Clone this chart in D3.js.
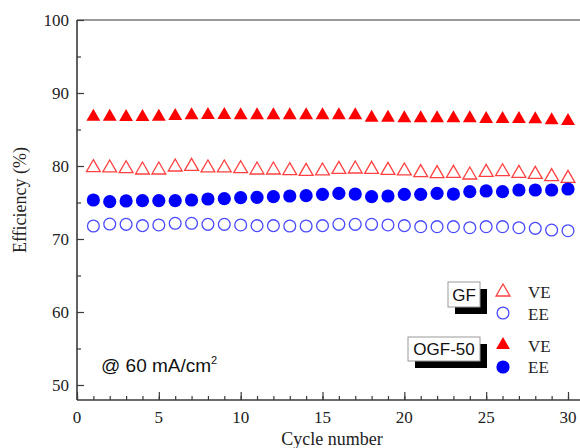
<!DOCTYPE html>
<html><head><meta charset="utf-8">
<script src="https://cdn.jsdelivr.net/npm/d3@7"></script>
<style>body{margin:0;background:#fff}svg{display:block}</style>
</head><body><svg id="c" width="580" height="448"></svg>
<script>
const cycles = d3.range(1, 31);
const veOGF = [86.76,86.76,86.71,86.71,86.76,86.85,86.94,86.99,86.99,86.94,86.94,86.94,86.94,86.94,86.94,86.94,86.94,86.62,86.62,86.53,86.53,86.53,86.53,86.53,86.44,86.44,86.44,86.39,86.26,86.16];
const veGF = [79.77,79.73,79.63,79.45,79.45,79.86,79.95,79.73,79.73,79.63,79.45,79.45,79.36,79.27,79.32,79.54,79.59,79.54,79.41,79.32,79.09,78.95,79.0,78.77,79.13,79.22,79.0,78.86,78.54,78.31];
const eeOGF = [75.34,75.11,75.21,75.25,75.25,75.25,75.34,75.48,75.53,75.66,75.71,75.8,75.89,75.94,76.12,76.26,76.16,75.8,75.89,76.12,76.12,76.26,76.16,76.48,76.58,76.48,76.71,76.71,76.71,76.85];
const eeGF = [71.78,72.05,72.01,71.83,71.92,72.15,72.15,72.01,72.01,71.92,71.83,71.83,71.78,71.78,71.83,72.01,72.01,72.01,71.92,71.83,71.69,71.69,71.69,71.55,71.69,71.69,71.55,71.46,71.23,71.14];
const xTicks = [0,5,10,15,20,25,30];
const yTicks = [50,60,70,80,90,100];

const svg = d3.select('#c');
const x = d3.scaleLinear().domain([0,30]).range([77,568]);
const y = d3.scaleLinear().domain([50,100]).range([385,20]);
const axisColor = '#3a3a3a';
const serif = '"Liberation Serif","Times New Roman",serif';
const sans = '"Liberation Sans",Arial,sans-serif';

// frame lines
svg.append('line').attr('x1',77).attr('x2',580).attr('y1',20).attr('y2',20).attr('stroke','#777').attr('stroke-width',1.6);

// x axis (ticks inward)
const gx = svg.append('g').attr('transform','translate(0,400)');
gx.call(d3.axisTop(x).tickValues(d3.range(0,31)).tickSize(4).tickFormat(''));
gx.selectAll('.tick line').attr('stroke',axisColor).attr('stroke-width',1.2);
gx.select('.domain').remove();
gx.append('line').attr('x1',77).attr('x2',580).attr('stroke',axisColor).attr('stroke-width',1.6);
const gx2 = svg.append('g').attr('transform','translate(0,400)');
gx2.call(d3.axisTop(x).tickValues(xTicks).tickSize(8).tickFormat(''));
gx2.select('.domain').remove();
gx2.selectAll('.tick line').attr('stroke',axisColor).attr('stroke-width',1.2);
svg.append('g').selectAll('text').data(xTicks).join('text')
  .attr('x',d=>x(d)).attr('y',423).attr('text-anchor','middle')
  .attr('font-family',serif).attr('font-size',17).attr('fill','#222').text(d=>d);

// y axis (ticks inward)
const gy = svg.append('g').attr('transform','translate(77,0)');
gy.call(d3.axisRight(y).tickValues(d3.range(55,100,10)).tickSize(4).tickFormat(''));
gy.select('.domain').remove();
gy.selectAll('.tick line').attr('stroke',axisColor).attr('stroke-width',1.2);
const gy2 = svg.append('g').attr('transform','translate(77,0)');
gy2.call(d3.axisRight(y).tickValues(yTicks).tickSize(7).tickFormat(''));
gy2.select('.domain').remove();
gy2.selectAll('.tick line').attr('stroke',axisColor).attr('stroke-width',1.2);
svg.append('line').attr('x1',77).attr('x2',77).attr('y1',20).attr('y2',400).attr('stroke',axisColor).attr('stroke-width',1.6);
svg.append('g').selectAll('text').data(yTicks).join('text')
  .attr('x',69).attr('y',d=>y(d)+6).attr('text-anchor','end')
  .attr('font-family',serif).attr('font-size',17).attr('fill','#222').text(d=>d);

// axis titles
svg.append('text').attr('x',332).attr('y',445).attr('text-anchor','middle')
  .attr('font-family',serif).attr('font-size',18).attr('fill','#222').text('Cycle number');
svg.append('text').attr('transform','translate(26,200) rotate(-90)').attr('text-anchor','middle')
  .attr('font-family',serif).attr('font-size',18).attr('fill','#222').text('Efficiency (%)');

// markers
const tri = d3.symbol().type(d3.symbolTriangle).size(83);
const red = '#ff0000', blue = '#0000ff';
function plot(vals, kind){
  const g = svg.append('g');
  const pts = cycles.map((c,i)=>({c, v: vals[i]}));
  if (kind==='triOpen' || kind==='triFill'){
    g.selectAll('path').data(pts).join('path')
      .attr('d', tri).attr('transform', d=>`translate(${x(d.c)},${y(d.v)})`)
      .attr('fill', kind==='triFill'?red:'none')
      .attr('stroke', kind==='triFill'?'none':'#ff4040').attr('stroke-width',1.3);
  } else {
    g.selectAll('circle').data(pts).join('circle')
      .attr('cx', d=>x(d.c)).attr('cy', d=>y(d.v))
      .attr('r', kind==='cirFill'?6.6:5.9)
      .attr('fill', kind==='cirFill'?blue:'none')
      .attr('stroke', kind==='cirFill'?'none':'#4a4aff').attr('stroke-width',1.3);
  }
}
plot(veOGF,'triFill');
plot(veGF,'triOpen');
plot(eeOGF,'cirFill');
plot(eeGF,'cirOpen');

// annotation
const ann = svg.append('text').attr('x',101).attr('y',372).attr('font-family',sans).attr('font-size',19).attr('fill','#111');
ann.append('tspan').text('@ 60 mA/cm');
ann.append('tspan').attr('font-size',11).attr('dy',-8).text('2');

// legend
function labelBox(x0,y0,w,h,txt){
  svg.append('rect').attr('x',x0+7).attr('y',y0+7).attr('width',w).attr('height',h).style('fill','#000000');
  svg.append('rect').attr('x',x0).attr('y',y0).attr('width',w).attr('height',h).style('fill','#ffffff').attr('stroke','#999').attr('stroke-width',1);
  svg.append('text').attr('x',x0+w/2).attr('y',y0+h/2+6).attr('text-anchor','middle')
    .attr('font-family',sans).attr('font-size',17).attr('fill','#111').text(txt);
}
labelBox(448,282,32,25,'GF');
labelBox(408,337,72,24,'OGF-50');
const legItems = [
  {kind:'triOpen', cy:292, lab:'VE', by:297.5},
  {kind:'cirOpen', cy:313, lab:'EE', by:320},
  {kind:'triFill', cy:345, lab:'VE', by:351.5},
  {kind:'cirFill', cy:367, lab:'EE', by:373}
];
legItems.forEach(it=>{
  if (it.kind.startsWith('tri')){
    svg.append('path').attr('d',tri).attr('transform',`translate(503,${it.cy})`)
      .attr('fill', it.kind==='triFill'?red:'none').attr('stroke', it.kind==='triFill'?'none':'#ff4040').attr('stroke-width',1.3);
  } else {
    svg.append('circle').attr('cx',503).attr('cy',it.cy).attr('r', it.kind==='cirFill'?6.6:5.9)
      .attr('fill', it.kind==='cirFill'?blue:'none').attr('stroke', it.kind==='cirFill'?'none':'#4a4aff').attr('stroke-width',1.3);
  }
  svg.append('text').attr('x',528).attr('y',it.by).attr('font-family',serif).attr('font-size',17).attr('fill','#222').text(it.lab);
});
</script></body></html>
